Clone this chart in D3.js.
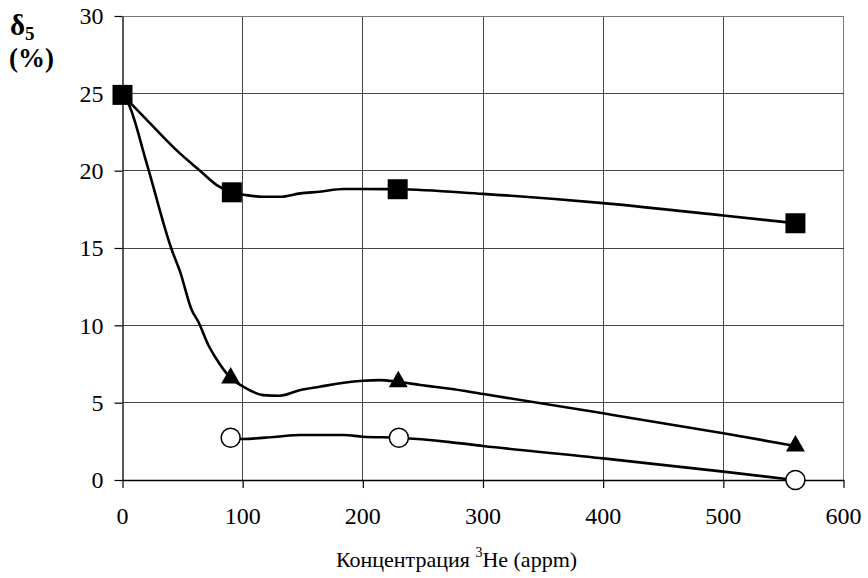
<!DOCTYPE html>
<html><head><meta charset="utf-8">
<script src="https://cdn.jsdelivr.net/npm/d3@7"></script>
</head><body style="margin:0">
<svg id="c" width="868" height="578" font-family="Liberation Serif"></svg>
<script>
// Marker data
const squarePts = [[0,24.9],[91,18.6],[229,18.8],[560,16.6]];
const trianglePts = [[90,6.6],[229.5,6.35],[560,2.2]];
const circlePts = [[90,2.73],[230,2.73],[560,0]];
const squareCurve = [[0,24.9],[20,23.3],[48,21.1],[64.5,20.0],[78.4,19.07],[91,18.6],[103,18.42],[117,18.31],[131,18.31],[148,18.53],[164,18.64],[184,18.81],[200,18.81],[229,18.8],[300,18.5],[400,17.9],[500,17.1],[560,16.6]];
const triangleCurve = [[0,24.9],[4.8,24.35],[20,20.5],[40.9,14.9],[47.9,13.47],[57.6,10.99],[63.1,10.23],[71.4,8.73],[77,7.97],[90,6.6],[100.5,6.03],[117,5.49],[131,5.45],[148,5.82],[164,6.03],[184,6.29],[200,6.42],[214,6.46],[229.5,6.35],[248,6.14],[259,6.03],[272.5,5.9],[300,5.56],[400,4.31],[500,3.02],[560,2.2]];
const circleCurve = [[90,2.73],[100.5,2.65],[128,2.80],[148,2.91],[184,2.91],[200,2.80],[230,2.73],[272.5,2.45],[300,2.2],[400,1.40],[500,0.54],[560,0]];
const xTicks = [0,100,200,300,400,500,600];
const yTicks = [0,5,10,15,20,25,30];

const svg = d3.select("#c");
const x = d3.scaleLinear().domain([0,600]).range([122.5,843.5]);
const y = d3.scaleLinear().domain([0,30]).range([480,16]);

function txt(sel, px, weight){
  return sel.attr("font-family","Liberation Serif").attr("font-size",px)
    .style("font-family",'"Liberation Serif"').style("font-size",px+"px")
    .attr("font-weight",weight||null).attr("fill","#000");
}

// grid
const g = svg.append("g");
g.selectAll(".vg").data(xTicks.slice(1)).join("line")
  .attr("x1",d=>x(d)).attr("x2",d=>x(d)).attr("y1",y(30)).attr("y2",y(0))
  .attr("stroke",d=>d===600?"#777":"#444").attr("stroke-width",1).attr("shape-rendering","crispEdges");
g.selectAll(".hg").data(yTicks.slice(1)).join("line")
  .attr("x1",x(0)).attr("x2",x(600)).attr("y1",d=>y(d)).attr("y2",d=>y(d))
  .attr("stroke",d=>d===30?"#777":"#444").attr("stroke-width",1).attr("shape-rendering","crispEdges");

// axes (lines from d3 axis)
const xa = svg.append("g").attr("transform",`translate(0,${y(0)})`)
  .call(d3.axisBottom(x).tickValues(xTicks).tickSize(8).tickSizeOuter(0).tickFormat(""));
const ya = svg.append("g").attr("transform",`translate(${x(0)},0)`)
  .call(d3.axisLeft(y).tickValues(yTicks).tickSize(8).tickSizeOuter(0).tickFormat(""));
[xa,ya].forEach(a=>{
  a.attr("font-family","Liberation Serif");
  a.select(".domain").attr("stroke","#000").attr("stroke-width",1.3);
  a.selectAll(".tick line").attr("stroke","#000").attr("stroke-width",1.2);
  a.selectAll("text").remove();
});
txt(svg.selectAll(".xt").data(xTicks).join("text"),24)
  .attr("x",d=>x(d)).attr("y",524).attr("text-anchor","middle").text(d=>d);
txt(svg.selectAll(".yt").data(yTicks).join("text"),24)
  .attr("x",103.5).attr("y",d=>y(d)+8.3).attr("text-anchor","end").text(d=>d);

// curves
const line = d3.line().x(d=>x(d[0])).y(d=>y(d[1])).curve(d3.curveMonotoneX);
[squareCurve,triangleCurve,circleCurve].forEach(c=>{
  svg.append("path").attr("d",line(c)).attr("fill","none").attr("stroke","#000")
    .attr("stroke-width",2.6).attr("stroke-linejoin","round");
});

// markers
svg.selectAll(".sq").data(squarePts).join("rect")
  .attr("x",d=>x(d[0])-10).attr("y",d=>y(d[1])-10).attr("width",20).attr("height",20).attr("fill","#000");
const tri = d3.symbol().type(d3.symbolTriangle).size(155);
svg.selectAll(".tr").data(trianglePts).join("path")
  .attr("d",tri).attr("transform",d=>`translate(${x(d[0])},${y(d[1])})`).attr("fill","#000");
svg.selectAll(".ci").data(circlePts).join("circle")
  .attr("cx",d=>x(d[0])).attr("cy",d=>y(d[1])).attr("r",9.5)
  .attr("fill","#fff").attr("stroke","#000").attr("stroke-width",1.5);

// y label
const yl = txt(svg.append("text"),29,"bold").attr("x",10).attr("y",35);
yl.append("tspan").text("δ");
yl.append("tspan").text("5").attr("font-size",19).style("font-size","19px").attr("dy",5);
txt(svg.append("text"),27,"bold").attr("x",31.5).attr("y",67)
  .attr("text-anchor","middle").text("(%)");

// x label
const xl = txt(svg.append("text"),22).attr("x",456.5).attr("y",567).attr("text-anchor","middle");
xl.append("tspan").text("Концентрация ");
xl.append("tspan").text("3").attr("font-size",14).style("font-size","14px").attr("dy",-10);
xl.append("tspan").text("He (appm)").attr("dy",10);
</script>
</body></html>
